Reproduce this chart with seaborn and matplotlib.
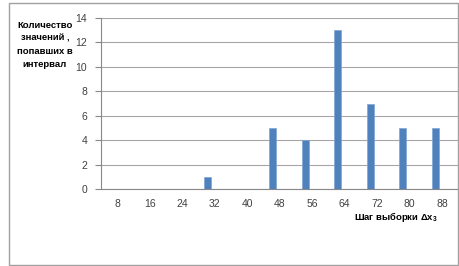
import matplotlib
matplotlib.use("Agg")
import matplotlib.pyplot as plt
import seaborn as sns
import numpy as np
import pandas as pd
from matplotlib.patches import Rectangle

categories = ["8", "16", "24", "32", "40", "48", "56", "64", "72", "80", "88"]
counts = [0, 0, 0, 1, 0, 5, 4, 13, 7, 5, 5]
y_ticks = [0, 2, 4, 6, 8, 10, 12, 14]
y_label = "Количество\nзначений ,\nпопавших в\nинтервал"
x_label = "Шаг выборки Δx$_3$"

sns.set_theme(style="white")
plt.rcParams['font.family'] = ['Liberation Sans', 'DejaVu Sans']
plt.rcParams['mathtext.fontset'] = 'custom'
plt.rcParams['mathtext.rm'] = 'Liberation Sans:bold'
plt.rcParams['mathtext.it'] = 'Liberation Sans:bold'

W, H = 460, 266
fig = plt.figure(figsize=(W / 100, H / 100), dpi=100)
left, right, top, bottom = 101, 458.5, 18, 189.3
ax = fig.add_axes([left / W, 1 - bottom / H, (right - left) / W, (bottom - top) / H])

df = pd.DataFrame({"cat": categories, "n": counts})
bw = 0.215
sns.barplot(data=df, x="cat", y="n", order=categories, color="#4F81BD",
            saturation=1, width=bw, ax=ax, edgecolor="#7FA6D6", linewidth=0.5)
for p in ax.patches:
    p.set_x(p.get_x() - bw)

ax.set_xlim(-0.5, len(categories) - 0.5)
ax.set_ylim(0, 14)
ax.set_yticks(y_ticks)
ax.yaxis.grid(True, color="#A6A6A6", linewidth=0.8)
ax.set_axisbelow(True)

ax.set_xticks(range(len(categories)))
ax.set_xticklabels(categories)
ax.set_xticks(np.arange(-0.5, len(categories), 1), minor=True)
ax.tick_params(axis="x", which="major", length=0, pad=7, labelsize=7.5, labelcolor="#404040")
ax.tick_params(axis="x", which="minor", length=4, width=0.8, color="#888888", direction="out")
ax.tick_params(axis="y", which="major", length=4, width=0.8, color="#888888", direction="out",
               labelsize=7.5, labelcolor="#404040", pad=6, left=True)

for s in ["top", "right"]:
    ax.spines[s].set_visible(False)
for s in ["left", "bottom"]:
    ax.spines[s].set_color("#888888")
    ax.spines[s].set_linewidth(0.8)

ax.set_xlabel("")
ax.set_ylabel("")

fig.text(45 / W, 1 - 45 / H, y_label, ha="center", va="center", fontsize=6.8,
         fontweight="bold", color="black", linespacing=1.6)
fig.text(396 / W, 1 - 217 / H, x_label, ha="center", va="center", fontsize=6.8,
         fontweight="bold", color="black")

fig.patches.append(Rectangle((9 / W, 1 - 264.5 / H), (458 - 9) / W, (264.5 - 3) / H,
                             transform=fig.transFigure, fill=False,
                             edgecolor="#A0A0A0", linewidth=1.0))

fig.savefig("out.png", dpi=100)
